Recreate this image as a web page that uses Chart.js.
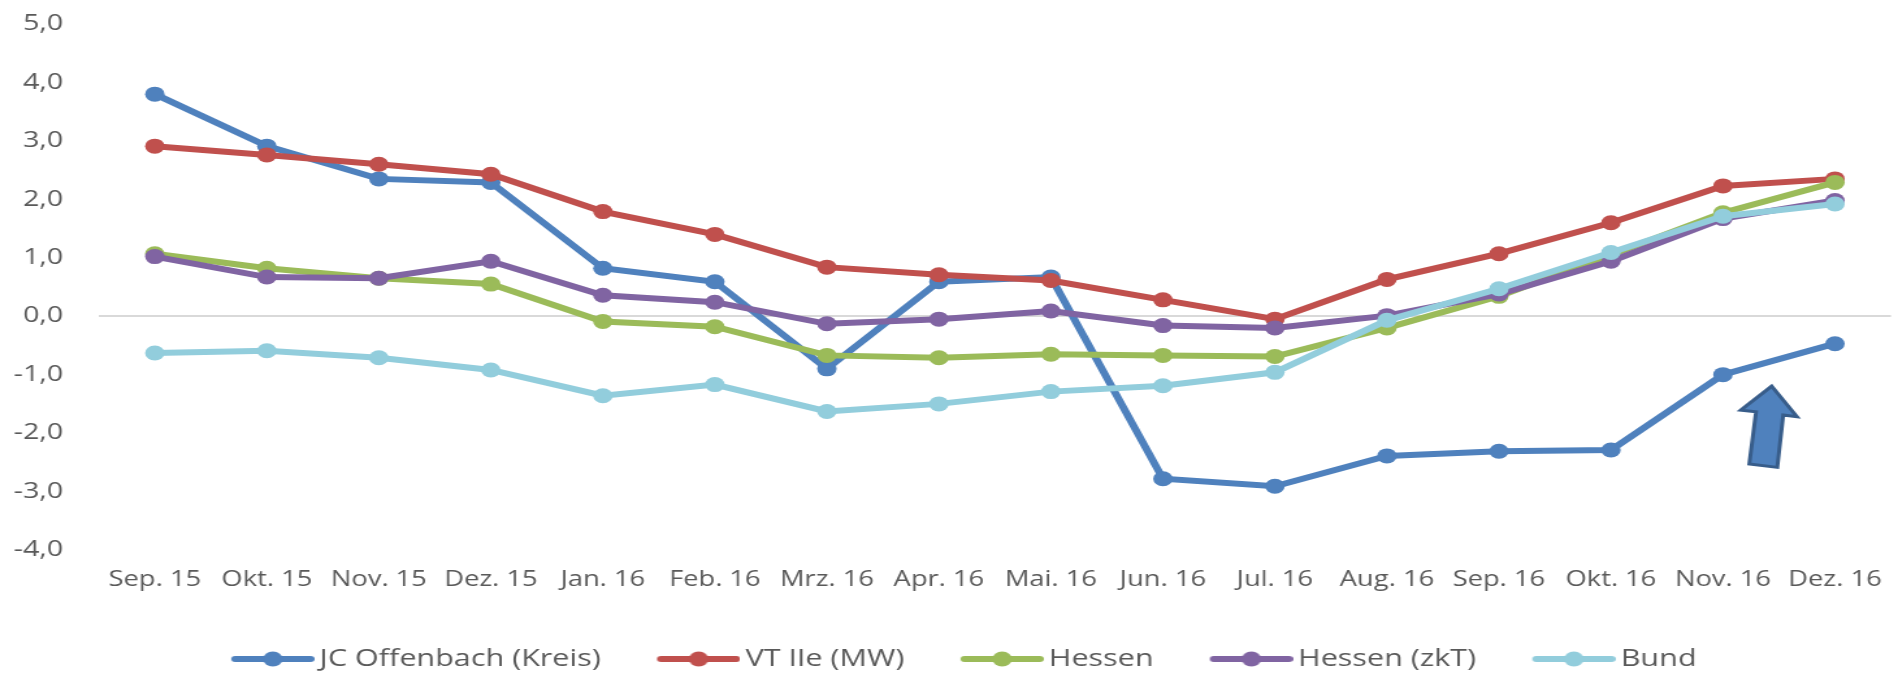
<!DOCTYPE html>
<html>
<head>
<meta charset="utf-8">
<script src="https://cdn.jsdelivr.net/npm/chart.js@4"></script>
<style>
  html, body { margin: 0; padding: 0; background: #ffffff; overflow: hidden; }
  #c { display: block; width: 1898px !important; height: 676px !important; }
</style>
</head>
<body>
<canvas id="c" width="1460" height="676" style="width:1898px;height:676px;"></canvas>
<script>
// ---- data ----
const categories = ['Sep. 15','Okt. 15','Nov. 15','Dez. 15','Jan. 16','Feb. 16','Mrz. 16','Apr. 16',
                    'Mai. 16','Jun. 16','Jul. 16','Aug. 16','Sep. 16','Okt. 16','Nov. 16','Dez. 16'];
const jcOffenbach = [3.80, 2.91, 2.35, 2.29, 0.82, 0.59, -0.90, 0.59, 0.67, -2.78, -2.91, -2.39, -2.31, -2.29, -1.00, -0.47];
const vtIIe       = [2.91, 2.76, 2.60, 2.43, 1.79, 1.40, 0.84, 0.71, 0.61, 0.28, -0.05, 0.63, 1.07, 1.60, 2.23, 2.35];
const hessen      = [1.07, 0.82, 0.65, 0.55, -0.09, -0.18, -0.67, -0.71, -0.65, -0.67, -0.69, -0.20, 0.34, 1.05, 1.77, 2.29];
const hessenZkT   = [1.02, 0.67, 0.65, 0.94, 0.36, 0.24, -0.13, -0.05, 0.09, -0.16, -0.20, 0.01, 0.38, 0.94, 1.67, 1.98];
const bund        = [-0.63, -0.59, -0.71, -0.92, -1.36, -1.17, -1.63, -1.50, -1.29, -1.19, -0.96, -0.07, 0.47, 1.09, 1.71, 1.92];
const seriesNames = ['JC Offenbach (Kreis)', 'VT IIe (MW)', 'Hessen', 'Hessen (zkT)', 'Bund'];
const yMin = -4, yMax = 5, yStep = 1;

// ---- styles ----
const colors = ['#4f81bd', '#c0504d', '#9bbb59', '#8064a2', '#92cddc'];
const textColor = '#595959';
const FONT = '"Open Sans", "Liberation Sans", sans-serif';
const LEGEND_FONT = 23.5, LEGEND_PAD = 3;

// legend swatch: transparent left margin, line + marker on the right part
const SW_BOX = 96.5, SW_IMG = 111.5;
function legendSwatch(color) {
  const cv = document.createElement('canvas');
  cv.width = Math.round(SW_IMG); cv.height = 18;
  const g = cv.getContext('2d');
  const x0 = cv.width - 64;
  g.strokeStyle = color; g.lineWidth = 6; g.lineCap = 'round';
  g.beginPath(); g.moveTo(x0 + 3, 9); g.lineTo(x0 + 61, 9); g.stroke();
  g.fillStyle = color;
  g.beginPath(); g.arc(x0 + 32, 9, 7.5, 0, Math.PI * 2); g.fill();
  return cv;
}

const allSeries = [jcOffenbach, vtIIe, hessen, hessenZkT, bund];
const datasets = allSeries.map((vals, i) => ({
  label: seriesNames[i],
  data: vals,
  borderColor: colors[i],
  backgroundColor: colors[i],
  pointBackgroundColor: colors[i],
  pointBorderColor: colors[i],
  pointBorderWidth: 0,
  pointRadius: 7.5,
  borderWidth: 6,
  tension: 0,
  fill: false,
  order: allSeries.length - i
}));

// annotation arrow (index / value space)
const arrowPts = [[14.435, -1.197], [14.158, -1.607], [14.295, -1.636], [14.235, -2.53],
                  [14.485, -2.586], [14.538, -1.692], [14.661, -1.721]];
const arrowPlugin = {
  id: 'arrow',
  afterDatasetsDraw(chart) {
    const {ctx, scales: {x, y}} = chart;
    ctx.save();
    ctx.beginPath();
    arrowPts.forEach((p, k) => {
      const px = x.getPixelForValue(p[0]), py = y.getPixelForValue(p[1]);
      if (k === 0) ctx.moveTo(px, py); else ctx.lineTo(px, py);
    });
    ctx.closePath();
    ctx.fillStyle = '#4f81bd';
    ctx.fill();
    ctx.lineWidth = 3;
    ctx.lineJoin = 'miter';
    ctx.strokeStyle = '#385d8a';
    ctx.stroke();
    ctx.restore();
  }
};

// place the legend row like the reference
const legendPlace = {
  id: 'legendPlace',
  afterLayout(chart) {
    const lg = chart.legend;
    if (!lg) return;
    const h = lg.bottom - lg.top;
    lg.top = 659 - LEGEND_PAD - LEGEND_FONT / 2;
    lg.bottom = lg.top + h;
    lg.left -= 6;
    lg.right -= 6;
  }
};

new Chart(document.getElementById('c'), {
  type: 'line',
  data: { labels: categories, datasets },
  plugins: [arrowPlugin, legendPlace],
  options: {
    responsive: false,
    animation: false,
    devicePixelRatio: 1,
    layout: { autoPadding: false, padding: { top: 24, right: 5.4, left: 0, bottom: 0 } },
    plugins: {
      tooltip: { enabled: false },
      legend: {
        position: 'bottom',
        labels: {
          usePointStyle: true,
          pointStyleWidth: SW_BOX,
          padding: LEGEND_PAD,
          color: textColor,
          font: { family: FONT, size: LEGEND_FONT },
          generateLabels(chart) {
            return chart.data.datasets.map((ds, i) => ({
              text: ds.label,
              pointStyle: legendSwatch(ds.borderColor),
              fillStyle: ds.borderColor,
              strokeStyle: ds.borderColor,
              lineWidth: 0,
              fontColor: textColor,
              hidden: false,
              datasetIndex: i
            }));
          }
        }
      }
    },
    scales: {
      x: {
        offset: true,
        afterFit(scale) {
          scale.paddingLeft = 0; scale.paddingRight = 0;
          const lg = scale.chart.legend;
          const lh = lg ? (lg.height || 0) : 0;
          scale.height = 126 - lh;
        },
        grid: { display: false, drawTicks: false },
        border: { display: false },
        ticks: { color: textColor, font: { family: FONT, size: 21 }, padding: 17, maxRotation: 0, autoSkip: false }
      },
      y: {
        min: yMin, max: yMax,
        afterFit(scale) { scale.width = 76; scale.paddingTop = 0; scale.paddingBottom = 0; },
        grid: {
          drawTicks: false,
          color: (c) => (c.tick && c.tick.value === 0) ? '#d9d9d9' : 'rgba(0,0,0,0)',
          lineWidth: 2
        },
        border: { display: false },
        ticks: {
          stepSize: yStep,
          padding: 27.5,
          color: textColor,
          font: { family: FONT, size: 22 },
          callback: (v) => v.toFixed(1).replace('.', ',')
        }
      }
    }
  }
});
</script>
</body>
</html>
